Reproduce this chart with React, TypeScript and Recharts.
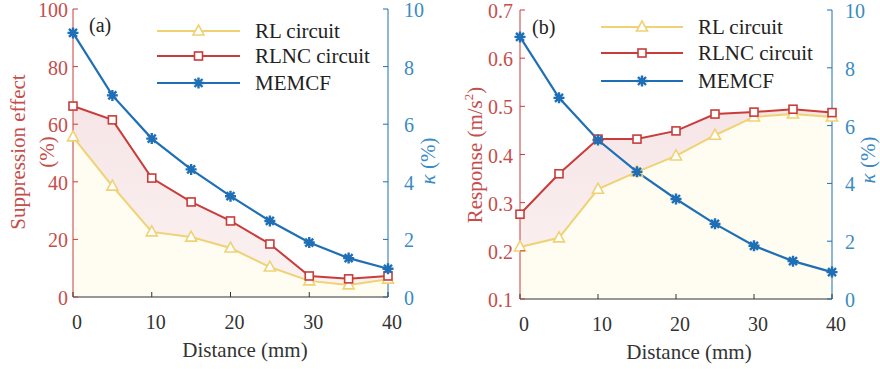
import { ComposedChart, Line, Area, XAxis, YAxis, Legend } from 'recharts';

const distance = [0, 5, 10, 15, 20, 25, 30, 35, 40];
const rlA = [55.6, 38.5, 22.6, 20.8, 17, 10.4, 5.6, 4.2, 6.2];
const rlncA = [66.3, 61.5, 41.3, 33, 26.4, 18.4, 7.3, 6.3, 7.3];
const memcfA = [9.17, 7.0, 5.5, 4.43, 3.5, 2.64, 1.89, 1.35, 0.98];
const rlB = [0.208, 0.227, 0.328, 0.364, 0.397, 0.44, 0.478, 0.484, 0.478];
const rlncB = [0.276, 0.36, 0.432, 0.432, 0.449, 0.484, 0.488, 0.494, 0.487];
const memcfB = [9.07, 6.96, 5.5, 4.4, 3.46, 2.6, 1.84, 1.31, 0.93];

const xTicks = [0, 10, 20, 30, 40];
const kappaTicks = [0, 2, 4, 6, 8, 10];
const suppTicks = [0, 20, 40, 60, 80, 100];
const respTicks = [0.1, 0.2, 0.3, 0.4, 0.5, 0.6, 0.7];
const seriesNames = ['RL circuit', 'RLNC circuit', 'MEMCF'];

const RED = '#c83c3a';
const YELLOW = '#efd274';
const BLUE = '#1f6fb6';
const RED_TXT = '#c44e4c';
const BLUE_TXT = '#3a8bc2';
const FONT = 'Liberation Serif';
const serif = { fontFamily: FONT };

const tableA = distance.map((d, i) => ({ d, rl: rlA[i], rlnc: rlncA[i], memcf: memcfA[i] }));
const tableB = distance.map((d, i) => ({ d, rl: rlB[i], rlnc: rlncB[i], memcf: memcfB[i] }));

function Tri({ cx, cy }: any) {
  return <polygon points={`${cx},${cy - 6} ${cx - 5.5},${cy + 4} ${cx + 5.5},${cy + 4}`} fill="#fff" stroke={YELLOW} strokeWidth={1.6} />;
}
function Sq({ cx, cy }: any) {
  return <rect x={cx - 4} y={cy - 4} width={8} height={8} fill="#fff" stroke={RED} strokeWidth={1.6} />;
}
function Star({ cx, cy }: any) {
  const r = 5.5;
  const q = 4;
  return (
    <path
      d={`M${cx - r},${cy}L${cx + r},${cy}M${cx},${cy - r}L${cx},${cy + r}M${cx - q},${cy - q}L${cx + q},${cy + q}M${cx - q},${cy + q}L${cx + q},${cy - q}`}
      stroke={BLUE}
      strokeWidth={2.4}
      fill="none"
    />
  );
}

function XTick({ x, y, payload }: any) {
  return (
    <g>
      <line x1={x} y1={y} x2={x} y2={y - 5} stroke="#333" />
      <text x={x + 4} y={y + 25} textAnchor="middle" dominantBaseline="central" style={serif} fontSize={20} fill="#333">
        {payload.value}
      </text>
    </g>
  );
}
function TopTick({ x, y }: any) {
  return <line x1={x} y1={y} x2={x} y2={y + 5} stroke="#333" />;
}
function LeftTick({ x, y, payload, digits, gap }: any) {
  return (
    <g>
      <line x1={x} y1={y} x2={x + 5} y2={y} stroke={RED} />
      <text x={x - gap} y={y + 1} textAnchor="end" dominantBaseline="central" style={serif} fontSize={20} fill={RED_TXT}>
        {Number(payload.value).toFixed(digits)}
      </text>
    </g>
  );
}
function RightTick({ x, y, payload, gap }: any) {
  return (
    <g>
      <line x1={x} y1={y} x2={x - 5} y2={y} stroke={BLUE} />
      <text x={x + gap} y={y + 1} textAnchor="start" dominantBaseline="central" style={serif} fontSize={20} fill={BLUE_TXT}>
        {payload.value}
      </text>
    </g>
  );
}

function Overlay({ tag, tagX, tagY, rows, lx1, lx2, tx }: any) {
  const marks = [Tri, Sq, Star];
  const cols = [YELLOW, RED, BLUE];
  const mx = (lx1 + lx2) / 2;
  return (
    <svg width={440} height={110} style={{ position: 'absolute', left: 0, top: 0 }}>
      <text x={tagX} y={tagY} dominantBaseline="central" style={serif} fontSize={20} fill="#222">{tag}</text>
      {seriesNames.map((n, i) => {
        const M = marks[i];
        return (
          <g key={n}>
            <line x1={lx1} y1={rows[i]} x2={lx2} y2={rows[i]} stroke={cols[i]} strokeWidth={2} />
            <M cx={mx} cy={rows[i]} />
            <text x={tx} y={rows[i]} dominantBaseline="central" style={serif} fontSize={21} fill="#222">{n}</text>
          </g>
        );
      })}
    </svg>
  );
}

function AxisText({ px, py, rotate, children, color }: any) {
  return (
    <text
      x={px}
      y={py}
      textAnchor="middle"
      dominantBaseline="central"
      transform={rotate ? `rotate(-90, ${px}, ${py})` : undefined}
      style={serif}
      fontSize={21}
      fill={color}
    >
      {children}
    </text>
  );
}

function Panel({ data, leftTicks, leftDomain, digits, margin, leftW, rightW, xH, gapL, gapR, gradId, legend, labels }: any) {
  return (
    <div style={{ position: 'relative', width: 440, height: 369 }}>
      <ComposedChart width={440} height={369} data={data} margin={margin} style={{ overflow: 'visible' }}>
        <defs>
          <linearGradient id={gradId} x1="0" y1="0" x2="0" y2="1">
            <stop offset="0%" stopColor="#f6e5e7" />
            <stop offset="100%" stopColor="#fbf2f2" />
          </linearGradient>
        </defs>
        <XAxis
          dataKey="d"
          type="number"
          domain={[0, 40]}
          ticks={xTicks}
          height={xH}
          tickSize={0}
          tickMargin={0}
          tickLine={false}
          axisLine={{ stroke: '#333' }}
          tick={<XTick />}
          label={labels.x}
        />
        <XAxis
          xAxisId="top"
          orientation="top"
          dataKey="d"
          type="number"
          domain={[0, 40]}
          ticks={[10, 20, 30]}
          height={0}
          tickSize={0}
          tickMargin={0}
          tickLine={false}
          axisLine={{ stroke: '#333' }}
          tick={<TopTick />}
        />
        <YAxis
          yAxisId="left"
          type="number"
          domain={leftDomain}
          ticks={leftTicks}
          width={leftW}
          tickSize={0}
          tickMargin={0}
          tickLine={false}
          axisLine={{ stroke: RED }}
          tick={(p: any) => <LeftTick {...p} digits={digits} gap={gapL} />}
          label={labels.left}
        />
        <YAxis
          yAxisId="right"
          orientation="right"
          type="number"
          domain={[0, 10]}
          ticks={kappaTicks}
          width={rightW}
          tickSize={0}
          tickMargin={0}
          tickLine={false}
          axisLine={{ stroke: BLUE }}
          tick={(p: any) => <RightTick {...p} gap={gapR} />}
          label={labels.right}
        />
        <Area yAxisId="left" dataKey="rlnc" stroke="none" fill={`url(#${gradId})`} fillOpacity={1} isAnimationActive={false} dot={false} activeDot={false} />
        <Area yAxisId="left" dataKey="rl" stroke="none" fill="#fffcf2" fillOpacity={1} isAnimationActive={false} dot={false} activeDot={false} />
        <Line yAxisId="left" dataKey="rl" stroke={YELLOW} strokeWidth={2} isAnimationActive={false} activeDot={false}
          dot={(p: any) => <Tri key={`t${p.index}`} cx={p.cx} cy={p.cy} />} />
        <Line yAxisId="left" dataKey="rlnc" stroke={RED} strokeWidth={2} isAnimationActive={false} activeDot={false}
          dot={(p: any) => <Sq key={`s${p.index}`} cx={p.cx} cy={p.cy} />} />
        <Line yAxisId="right" dataKey="memcf" stroke={BLUE} strokeWidth={2.2} isAnimationActive={false} activeDot={false}
          dot={(p: any) => <Star key={`m${p.index}`} cx={p.cx} cy={p.cy} />} />
        <Legend
          layout="vertical"
          align="center"
          verticalAlign="middle"
          wrapperStyle={{ left: 0, top: 0, width: 440, height: 110, pointerEvents: 'none' }}
          content={() => <Overlay {...legend} />}
        />
      </ComposedChart>
    </div>
  );
}

export default function App() {
  return (
    <div style={{ position: 'absolute', left: 0, top: 0, width: 880, height: 369, background: '#fff', display: 'flex' }}>
      <Panel
        data={tableA}
        leftTicks={suppTicks}
        leftDomain={[0, 100]}
        digits={0}
        margin={{ top: 9, right: 0, bottom: 0, left: 0 }}
        leftW={73}
        rightW={52}
        xH={72}
        gapL={5}
        gapR={16}
        gradId="pinkA"
        legend={{ tag: '(a)', tagX: 89, tagY: 25, rows: [31, 56, 83], lx1: 157, lx2: 240, tx: 255 }}
        labels={{
          x: <AxisText px={245} py={350} color="#333">Distance (mm)</AxisText>,
          left: (
            <g>
              <AxisText px={18} py={152} rotate color={RED_TXT}>Suppression effect</AxisText>
              <AxisText px={47} py={152} rotate color={RED_TXT}>(%)</AxisText>
            </g>
          ),
          right: (
            <AxisText px={428} py={161} rotate color={BLUE_TXT}>
              <tspan fontStyle="italic">κ</tspan> (%)
            </AxisText>
          ),
        }}
      />
      <Panel
        data={tableB}
        leftTicks={respTicks}
        leftDomain={[0.1, 0.7]}
        digits={1}
        margin={{ top: 10, right: 0, bottom: 0, left: 0 }}
        leftW={80}
        rightW={48}
        xH={70}
        gapL={7}
        gapR={13}
        gradId="pinkB"
        legend={{ tag: '(b)', tagX: 92, tagY: 27, rows: [27, 53, 81], lx1: 161, lx2: 243, tx: 258 }}
        labels={{
          x: <AxisText px={249} py={352} color="#333">Distance (mm)</AxisText>,
          left: (
            <AxisText px={35} py={155} rotate color={RED_TXT}>
              Response (m/s<tspan dy={-7} fontSize={13}>2</tspan><tspan dy={7}>)</tspan>
            </AxisText>
          ),
          right: (
            <AxisText px={428} py={160} rotate color={BLUE_TXT}>
              <tspan fontStyle="italic">κ</tspan> (%)
            </AxisText>
          ),
        }}
      />
    </div>
  );
}
